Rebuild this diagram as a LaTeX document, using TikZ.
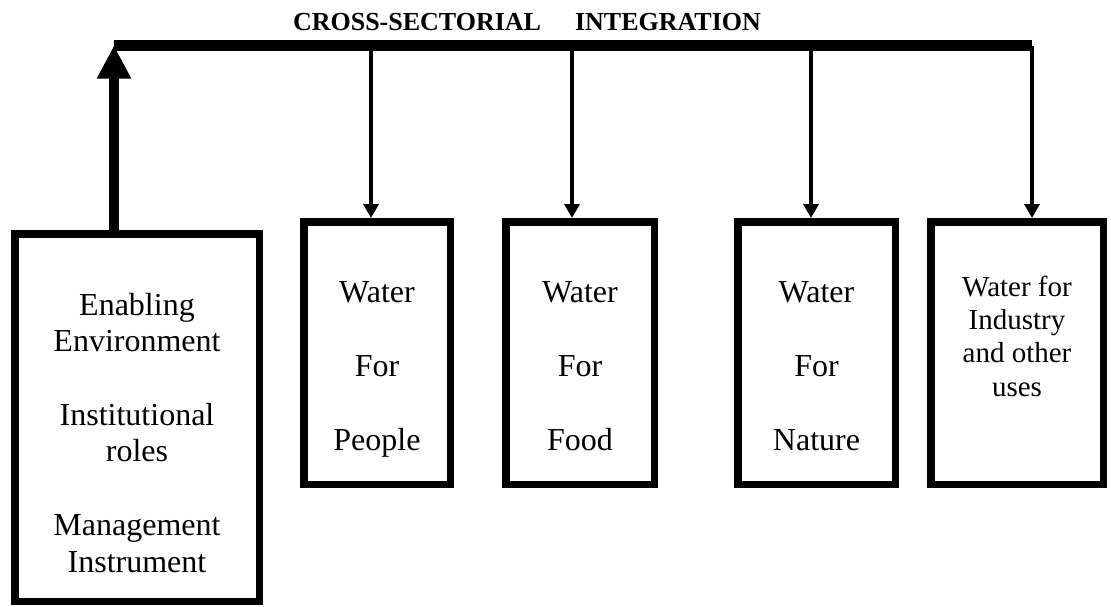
\documentclass[tikz,border=0pt]{standalone}
\usepackage{fontspec}
\setmainfont{Liberation Serif}
\usetikzlibrary{arrows.meta}
\begin{document}
\begin{tikzpicture}[x=1pt,y=-1pt,
  sectorbox/.style={draw, rectangle, line width=7.5pt, inner sep=0pt},
  boxtext/.style={align=center, anchor=base, inner sep=0pt, font=\fontsize{32pt}{36.7pt}\selectfont},
  smalltext/.style={align=center, anchor=base, inner sep=0pt, font=\fontsize{29pt}{33.3pt}\selectfont},
  titletext/.style={anchor=base, inner sep=0pt, font=\bfseries\fontsize{26pt}{30pt}\selectfont},
  barline/.style={line width=10.5pt},
  uparrow/.style={line width=10pt, -{Triangle[length=33pt,width=32pt]}},
  downarrow/.style={line width=4pt, -{Triangle[length=14pt,width=15pt]}}
]
\useasboundingbox (0,0) rectangle (1111,606);

% boxes
\node[sectorbox, minimum width=244.5pt, minimum height=367.5pt] (b1) at (137,417.5) {};
\node[sectorbox, minimum width=146.5pt, minimum height=262.5pt] (b2) at (377,353) {};
\node[sectorbox, minimum width=148.5pt, minimum height=262.5pt] (b3) at (580,353) {};
\node[sectorbox, minimum width=157.5pt, minimum height=262.5pt] (b4) at (816.5,353) {};
\node[sectorbox, minimum width=172.5pt, minimum height=262.5pt] (b5) at (1017,353) {};

% texts (base anchor = baseline of the last line)
\node[boxtext] (t1) at (137,572) {Enabling\\Environment\\[36.7pt]Institutional\\roles\\[36.7pt]Management\\Instrument};
\node[boxtext] (t2) at (377,450) {Water\\[37pt]For\\[37pt]People};
\node[boxtext] (t3) at (580,450) {Water\\[37pt]For\\[37pt]Food};
\node[boxtext] (t4) at (816.5,450) {Water\\[37pt]For\\[37pt]Nature};
\node[smalltext] (t5) at (1017,396) {Water for\\Industry\\and other\\uses};

% title
\node[titletext] (title) at (527,30) {CROSS-SECTORIAL\hspace{34pt}INTEGRATION};

% bar coordinates
\coordinate (barL) at (114,45.5);
\coordinate (a2) at (371,45.5);
\coordinate (a3) at (572,45.5);
\coordinate (a4) at (811,45.5);
\coordinate (a5) at (1032,45.5);

% connectors
\draw[barline] (barL) -- (a5);
\draw[uparrow] (barL |- b1.north) -- (barL);
\draw[downarrow] (a2) -- (a2 |- b2.north);
\draw[downarrow] (a3) -- (a3 |- b3.north);
\draw[downarrow] (a4) -- (a4 |- b4.north);
\draw[downarrow] (a5) -- (a5 |- b5.north);
\end{tikzpicture}
\end{document}
